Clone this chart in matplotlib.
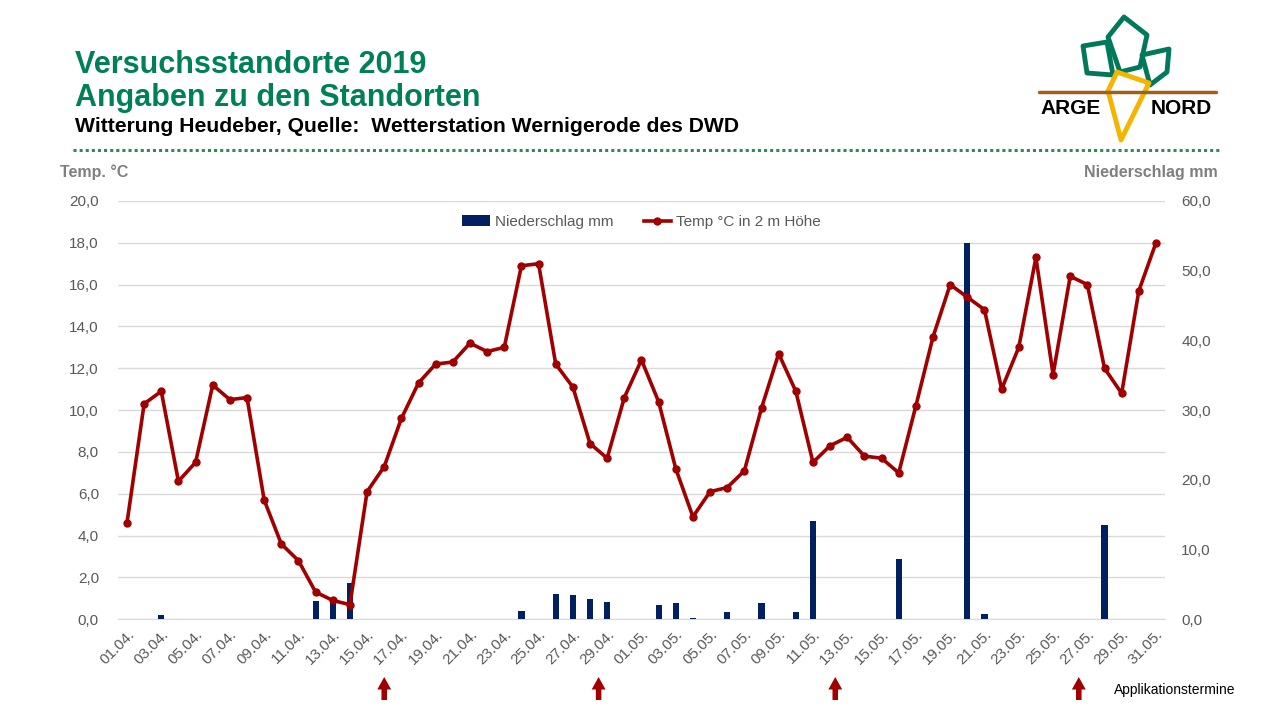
import pandas as pd
import matplotlib.pyplot as plt
import numpy as np
from matplotlib.ticker import MultipleLocator, FuncFormatter
from matplotlib.patches import Polygon

plt.rcParams['font.family'] = ['Liberation Sans', 'DejaVu Sans']

# daily values 01.04.2019 - 31.05.2019
dates = pd.date_range('2019-04-01', '2019-05-31', freq='D')
day_labels = [d.strftime('%d.%m.') for d in dates]

temp = [4.6, 10.3, 10.9, 6.6, 7.5, 11.2, 10.5, 10.6, 5.7, 3.6,
        2.8, 1.3, 0.9, 0.7, 6.1, 7.3, 9.6, 11.3, 12.2, 12.3,
        13.2, 12.8, 13.0, 16.9, 17.0, 12.2, 11.1, 8.4, 7.7, 10.6,
        12.4, 10.4, 7.2, 4.9, 6.1, 6.3, 7.1, 10.1, 12.7, 10.9,
        7.5, 8.3, 8.7, 7.8, 7.7, 7.0, 10.2, 13.5, 16.0, 15.4,
        14.8, 11.0, 13.0, 17.3, 11.7, 16.4, 16.0, 12.0, 10.8, 15.7,
        18.0]

niederschlag = [0, 0, 0.6, 0, 0, 0, 0, 0, 0, 0,
                0, 2.6, 2.8, 5.2, 0, 0, 0, 0, 0, 0,
                0, 0, 0, 1.2, 0, 3.6, 3.5, 2.9, 2.5, 0,
                0, 2.05, 2.3, 0.2, 0, 1.05, 0, 2.3, 0, 1.05,
                14.1, 0, 0, 0, 0.1, 8.6, 0, 0, 0, 54.0,
                0.8, 0, 0, 0.1, 0, 0, 0.1, 13.5, 0, 0,
                0]

# Applikationstermine (position in Tagen ab 01.04.)
app_days = [15.0, 27.5, 41.3, 55.5]

RED = '#A00000'
NAVY = '#002060'
GREEN = '#008055'
GRAY = '#595959'

fig = plt.figure(figsize=(12.8, 7.2), dpi=100)
x = np.arange(len(dates))

ax2 = fig.add_axes([0.0925, 0.1399, 0.8173, 0.5810])
ax = ax2.twinx()
ax.yaxis.tick_left()
ax.set_zorder(ax2.get_zorder() + 1)
ax.patch.set_visible(False)

bars = ax2.bar(x, niederschlag, width=0.36, color=NAVY, zorder=3, label='Niederschlag mm')
line, = ax.plot(x, temp, color=RED, lw=2.6, marker='o', ms=5, label='Temp °C in 2 m Höhe')

ax.set_xlim(-0.5, len(dates) - 0.5)
ax.set_ylim(0, 20)
ax2.set_ylim(0, 60)

comma = FuncFormatter(lambda v, p: '{:.1f}'.format(v).replace('.', ','))
ax.yaxis.set_major_locator(MultipleLocator(2))
ax.yaxis.set_major_formatter(comma)
ax2.yaxis.set_major_locator(MultipleLocator(10))
ax2.yaxis.set_major_formatter(comma)
ax2.yaxis.tick_right()
ax2.yaxis.set_minor_locator(MultipleLocator(6))
ax2.yaxis.remove_overlapping_locs = False
ax2.grid(axis='y', which='minor', color='#D9D9D9', lw=1.0, zorder=0)
ax2.tick_params(axis='y', which='minor', length=0)

ax.tick_params(axis='y', length=0, labelsize=11, labelcolor=GRAY, pad=14)
ax2.tick_params(axis='y', which='major', length=0, labelsize=11, labelcolor=GRAY, pad=12)

ax2.set_xticks(x[::2])
ax2.set_xticklabels(day_labels[::2], rotation=45, ha='right', va='top',
                    rotation_mode='anchor', fontsize=11, color=GRAY)
ax2.tick_params(axis='x', length=0, pad=6)
ax.tick_params(axis='x', length=0)

for a in (ax, ax2):
    for s in ('top', 'left', 'right'):
        a.spines[s].set_visible(False)
ax2.spines['bottom'].set_color('#D9D9D9')
ax.spines['bottom'].set_visible(False)

ax.legend([bars, line], ['Niederschlag mm', 'Temp °C in 2 m Höhe'], loc='center',
          bbox_to_anchor=(0.5, 0.95), ncol=2, frameon=False, fontsize=11,
          labelcolor=GRAY, handlelength=1.8, columnspacing=2.0, handletextpad=0.3)

# axis titles
fig.text(60 / 1280, 1 - 172 / 720, 'Temp. °C', fontsize=11.5, fontweight='bold',
         color='#7F7F7F', va='center', ha='left')
fig.text(1218 / 1280, 1 - 172 / 720, 'Niederschlag mm', fontsize=11.5, fontweight='bold',
         color='#7F7F7F', va='center', ha='right')

# header
fig.text(75 / 1280, 1 - 65 / 720, 'Versuchsstandorte 2019', fontsize=22, fontweight='bold',
         color=GREEN, va='center')
fig.text(75 / 1280, 1 - 98 / 720, 'Angaben zu den Standorten', fontsize=22, fontweight='bold',
         color=GREEN, va='center')
fig.text(75 / 1280, 1 - 126 / 720, 'Witterung Heudeber, Quelle:  Wetterstation Wernigerode des DWD',
         fontsize=15.2, fontweight='bold', color='black', va='center')

# overlay in pixel coordinates for decoration
deco = fig.add_axes([0, 0, 1, 1], zorder=-5)
deco.set_xlim(0, 1280)
deco.set_ylim(720, 0)
deco.axis('off')
deco.plot([73, 1220], [150, 150], color='#2E8B57', lw=2.2, ls=(0, (1, 1.0)))

# logo
deco.plot([1039, 1216], [92, 92], color='#A0601A', lw=2.5, solid_capstyle='round')
leaf_l = [(1083, 46), (1107, 42), (1113, 75), (1087, 73)]
leaf_c = [(1108, 37), (1124, 17), (1147, 35), (1140, 67), (1120, 72)]
leaf_r = [(1142, 55), (1169, 49), (1167, 72), (1150, 85)]
for pts in (leaf_l, leaf_c, leaf_r):
    deco.add_patch(Polygon(pts, closed=True, fill=False, ec='#00785A', lw=3.5, joinstyle='round'))
deco.add_patch(Polygon([(1117, 72), (1149, 83), (1121, 140), (1108, 91)], closed=True,
                       fill=False, ec='#F5B400', lw=3.5, joinstyle='round'))
deco.text(1040, 109, 'ARGE', fontsize=15, fontweight='bold', color='black', va='center', ha='left')
deco.text(1212, 109, 'NORD', fontsize=15, fontweight='bold', color='black', va='center', ha='right')

# Applikationstermine arrows
for d in app_days:
    ax2.annotate('', xy=(d, 720 - 677), xycoords=('data', 'figure pixels'),
                 xytext=(d, 720 - 700), textcoords=('data', 'figure pixels'),
                 arrowprops=dict(arrowstyle='simple,head_length=9,head_width=10,tail_width=4',
                                 mutation_scale=1, fc=RED, ec='none', lw=0,
                                 shrinkA=0, shrinkB=0),
                 annotation_clip=False)
fig.text(1114 / 1280, 1 - 690 / 720, 'Applikationstermine', fontsize=10, color='black',
         va='center', ha='left')

fig.savefig('out.png', dpi=100)
